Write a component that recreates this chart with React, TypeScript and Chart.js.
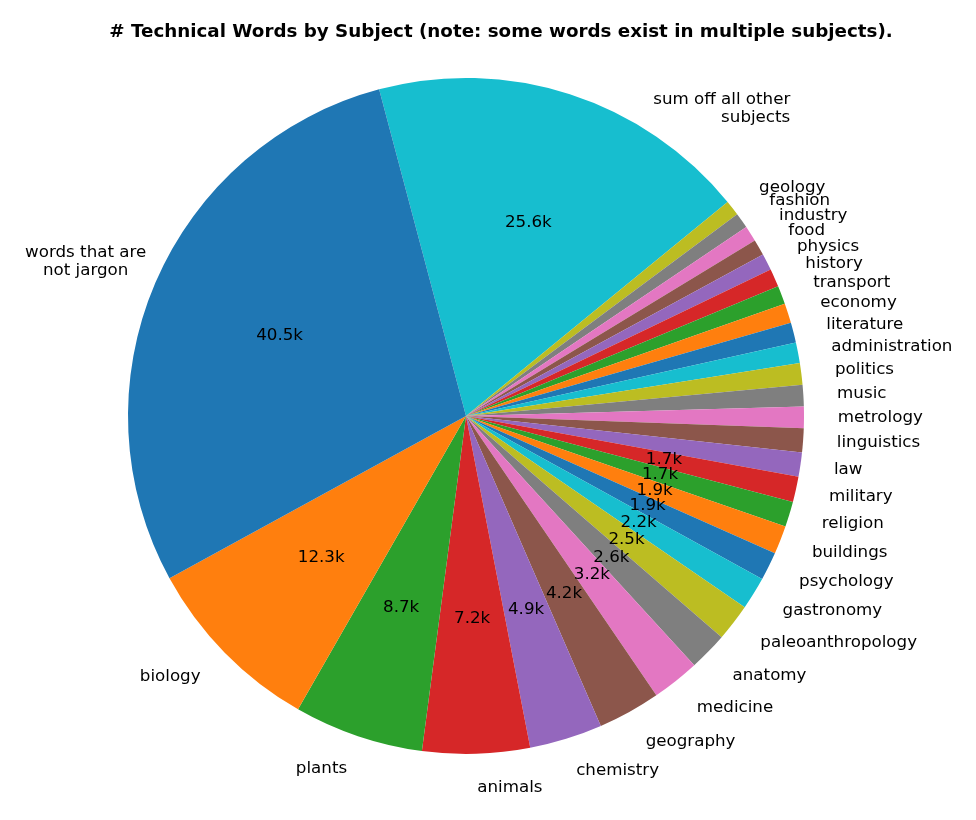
import { useEffect, useRef } from "react";
import { Chart, registerables } from "chart.js";

Chart.register(...registerables);

// counterclockwise order, as in the source figure (values in thousands)
const subjects = [
    "words that are\n not jargon",
    "biology",
    "plants",
    "animals",
    "chemistry",
    "geography",
    "medicine",
    "anatomy",
    "paleoanthropology",
    "gastronomy",
    "psychology",
    "buildings",
    "religion",
    "military",
    "law",
    "linguistics",
    "metrology",
    "music",
    "politics",
    "administration",
    "literature",
    "economy",
    "transport",
    "history",
    "physics",
    "food",
    "industry",
    "fashion",
    "geology",
    "sum off all other\n subjects",
];

const counts = [
    40.5, 12.3, 8.7, 7.2, 4.9, 4.2, 3.2, 2.6, 2.5, 2.2,
    1.9, 1.9, 1.7, 1.7, 1.62, 1.61, 1.45, 1.44, 1.44, 1.39,
    1.34, 1.33, 1.23, 1.21, 1.12, 1.08, 1.05, 1.04, 1.03, 25.6,
];

const tab10 = [
    "#1f77b4", "#ff7f0e", "#2ca02c", "#d62728", "#9467bd",
    "#8c564b", "#e377c2", "#7f7f7f", "#bcbd22", "#17becf",
];

const TITLE = "# Technical Words by Subject (note: some words exist in multiple subjects).";
const VALUE_LABEL_MIN = 1.7;
const FONT = "'DejaVu Sans', sans-serif";

// the two big labels were moved by hand in the original
const labelNudge: Record<string, { dx: number; dy: number; align: string; multi: string }> = {
    "words that are\n not jargon": { dx: 22, dy: -8, align: "right", multi: "center" },
    "sum off all other\n subjects": { dx: 210, dy: 46, align: "right", multi: "right" },
};

const pieLabels = {
    id: "pieLabels",
    afterDatasetsDraw(chart: any) {
        const { ctx } = chart;
        const meta = chart.getDatasetMeta(0);
        const values = chart.data.datasets[0].data as number[];
        const names = chart.data.labels as string[];
        const lineH = 18;
        ctx.save();
        ctx.fillStyle = "#000";
        ctx.textBaseline = "middle";
        ctx.font = `16.7px ${FONT}`;

        meta.data.forEach((el: any, j: number) => {
            const { x, y, startAngle, endAngle, outerRadius } = el.getProps(
                ["x", "y", "startAngle", "endAngle", "outerRadius"], true);
            const mid = (startAngle + endAngle) / 2;
            const cos = Math.cos(mid);
            const sin = Math.sin(mid);

            if (values[j] >= VALUE_LABEL_MIN) {
                ctx.textAlign = "center";
                ctx.fillText(values[j].toFixed(1) + "k",
                    x + 0.6 * outerRadius * cos, y + 0.6 * outerRadius * sin);
            }

            const lines = names[j].split("\n").map((s) => s.trim());
            let ax = x + 1.1 * outerRadius * cos;
            let ay = y + 1.1 * outerRadius * sin;
            let align = cos > 0 ? "left" : "right";
            let multi = align;
            const nudge = labelNudge[names[j]];
            if (nudge) {
                ax += nudge.dx;
                ay += nudge.dy;
                align = nudge.align;
                multi = nudge.multi;
            }
            const width = Math.max(...lines.map((l) => ctx.measureText(l).width));
            const left = align === "right" ? ax - width : align === "center" ? ax - width / 2 : ax;
            lines.forEach((line, i) => {
                const ly = ay + (i - (lines.length - 1) / 2) * lineH;
                ctx.textAlign = multi;
                const lx = multi === "right" ? left + width : multi === "center" ? left + width / 2 : left;
                ctx.fillText(line, lx, ly);
            });
        });

        ctx.font = `bold 18.3px ${FONT}`;
        ctx.textAlign = "center";
        ctx.fillText(TITLE, 501, 32);
        ctx.restore();
    },
};

export default function App() {
    const canvasRef = useRef<HTMLCanvasElement | null>(null);
    const chartRef = useRef<Chart | null>(null);

    useEffect(() => {
        if (!canvasRef.current) return;
        if (chartRef.current) chartRef.current.destroy();

        // Chart.js draws clockwise, so reverse to keep the counterclockwise order
        const labels = [...subjects].reverse();
        const data = [...counts].reverse();
        const colors = subjects.map((_, i) => tab10[i % 10]).reverse();

        chartRef.current = new Chart(canvasRef.current, {
            type: "pie",
            data: {
                labels,
                datasets: [
                    {
                        data,
                        backgroundColor: colors,
                        borderWidth: 0,
                        hoverBorderWidth: 0,
                        hoverOffset: 0,
                        offset: 0,
                    },
                ],
            },
            options: {
                responsive: false,
                animation: false,
                events: [],
                rotation: -14.9,
                layout: { padding: { left: 128, right: 172, top: 78, bottom: 66 } },
                plugins: {
                    legend: { display: false },
                    tooltip: { enabled: false },
                    title: { display: false },
                },
            },
            plugins: [pieLabels],
        });

        return () => {
            if (chartRef.current) chartRef.current.destroy();
            chartRef.current = null;
        };
    }, []);

    return (
        <div style={{ position: "absolute", left: 0, top: 0, width: 976, height: 820, background: "#fff" }}>
            <canvas ref={canvasRef} width={976} height={820} style={{ display: "block" }} />
        </div>
    );
}
